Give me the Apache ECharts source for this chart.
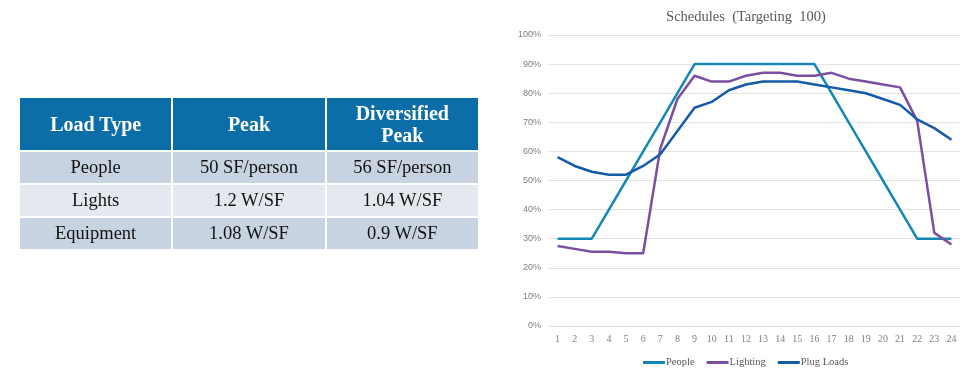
<!DOCTYPE html>
<html>
<head>
<meta charset="utf-8">
<script src="https://cdn.jsdelivr.net/npm/echarts@6/dist/echarts.min.js"></script>
<style>
  html, body { margin: 0; padding: 0; background: #fff; }
  #chart { position: absolute; left: 0; top: 0; width: 974px; height: 376px; }
  table.loads {
    position: absolute; left: 18px; top: 96px; width: 462px;
    border-collapse: collapse; table-layout: fixed;
    font-family: "Liberation Serif", "Times New Roman", serif; font-size: 18.5px;
  }
  table.loads th, table.loads td { border: 2px solid #fff; text-align: center; padding: 0; }
  table.loads th { background: #0b6ea9; color: #fff; font-weight: bold; font-size: 20px; height: 52px; line-height: 22px; }
  table.loads td { color: #111; height: 31px; }
  table.loads tr.odd td { background: #c8d3e1; }
  table.loads tr.even td { background: #e5e9ef; }
</style>
</head>
<body>
<div id="chart"></div>
<table class="loads" id="loads"></table>
<script>
// table
var tableHead = ['Load Type', 'Peak', 'Diversified<br>Peak'];
var loadTypes = ['People', 'Lights', 'Equipment'];
var peakValues = ['50 SF/person', '1.2 W/SF', '1.08 W/SF'];
var diversifiedValues = ['56 SF/person', '1.04 W/SF', '0.9 W/SF'];

// chart
var hours = ['1','2','3','4','5','6','7','8','9','10','11','12','13','14','15','16','17','18','19','20','21','22','23','24'];
var people = [30,30,30,40,50,60,70,80,90,90,90,90,90,90,90,90,80,70,60,50,40,30,30,30];
var lighting = [27.5,26.5,25.5,25.5,25,25,61,78,86,84,84,86,87,87,86,86,87,85,84,83,82,70.5,32,28];
var plugLoads = [58,55,53,52,52,55,59,67,75,77,81,83,84,84,84,83,82,81,80,78,76,71,68,64];

var html = '<tr>' + tableHead.map(function (h) { return '<th>' + h + '</th>' }).join('') + '</tr>';
loadTypes.forEach(function (t, i) {
  html += '<tr class="' + (i % 2 ? 'even' : 'odd') + '"><td>' + t + '</td><td>' + peakValues[i] + '</td><td>' + diversifiedValues[i] + '</td></tr>';
});
document.getElementById('loads').innerHTML = html;

var serif = '"Liberation Serif", "Times New Roman", serif';
var myChart = echarts.init(document.getElementById('chart'));
myChart.setOption({
  animation: false,
  title: {
    text: 'Schedules  (Targeting  100)',
    left: 741, top: 5, textAlign: 'center',
    textStyle: { fontFamily: serif, fontSize: 14.5, fontWeight: 'normal', color: '#595959' }
  },
  legend: {
    left: 638, top: 352,
    icon: 'rect', itemWidth: 22, itemHeight: 3, itemGap: 12,
    textStyle: { fontFamily: serif, fontSize: 10.5, color: '#595959', padding: [0, 0, 0, -4] },
    data: ['People', 'Lighting', 'Plug Loads']
  },
  grid: { left: 549, right: 14, top: 35, bottom: 50, containLabel: false },
  xAxis: {
    type: 'category',
    data: hours,
    boundaryGap: true,
    axisLine: { lineStyle: { color: '#d9d9d9' } },
    axisTick: { show: false },
    axisLabel: { fontFamily: serif, fontSize: 10, color: '#7f7f7f', margin: 8 }
  },
  yAxis: {
    type: 'value', min: 0, max: 100, interval: 10,
    axisLine: { show: false },
    axisTick: { show: false },
    splitLine: { lineStyle: { color: '#e3e3e3' } },
    axisLabel: { formatter: '{value}%', fontFamily: 'Arial, "Liberation Sans", sans-serif', fontSize: 9, color: '#7f7f7f', margin: 8 }
  },
  series: [
    { name: 'People', type: 'line', data: people, showSymbol: false, color: '#1487b6', lineStyle: { width: 2.5 } },
    { name: 'Lighting', type: 'line', data: lighting, showSymbol: false, color: '#7a4f9f', lineStyle: { width: 2.5 } },
    { name: 'Plug Loads', type: 'line', data: plugLoads, showSymbol: false, color: '#145aa8', lineStyle: { width: 2.5 } }
  ]
});
</script>
</body>
</html>
